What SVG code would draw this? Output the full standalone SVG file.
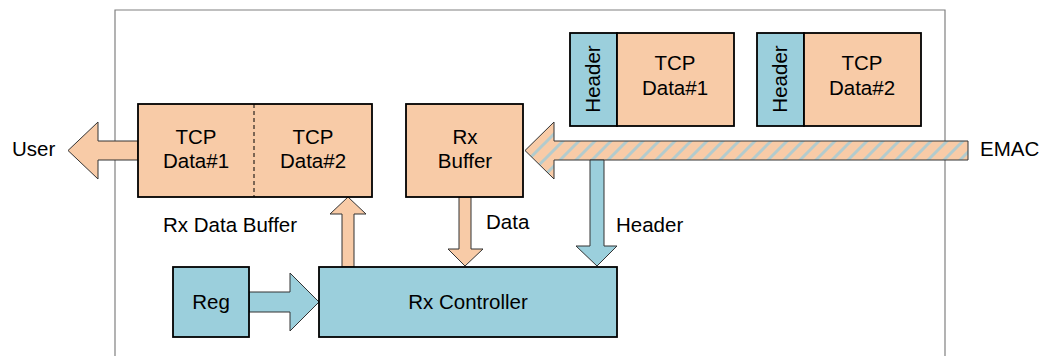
<svg xmlns="http://www.w3.org/2000/svg" width="1039" height="356" viewBox="0 0 1039 356">
<style>
text{font-family:"Liberation Sans",Arial,sans-serif;font-size:20.5px;fill:#000}
.c{text-anchor:middle}
.o{fill:#F8CBA7;stroke:#000;stroke-width:1.8}
.b{fill:#9BCFDC;stroke:#000;stroke-width:1.8}
.ao{fill:#F8CBA7;stroke:#333;stroke-width:1}
.ab{fill:#9BCFDC;stroke:#333;stroke-width:1}
.frame{fill:none;stroke:#808080;stroke-width:1.2}
</style>
<defs>
<pattern id="hatch" patternUnits="userSpaceOnUse" width="16" height="16">
<rect width="16" height="16" fill="#F8CBA7"/>
<path d="M-4,4 L4,-4 M0,16 L16,0 M12,20 L20,12" stroke="#A7CCD4" stroke-width="3" stroke-opacity="0.85"/>
</pattern>
</defs>
<path class="frame" d="M115,356 V10 H945 V356"/>
<g id="connectors">
<polygon class="ao" points="138,141 98,141 98,122 68,150.5 98,179 98,160 138,160"/>
<polygon fill="url(#hatch)" stroke="#333" stroke-width="1" points="968,141 554,141 554,122 525,150.5 554,179 554,160 968,160"/>
<polygon class="ab" points="590,160 604,160 604,246 617,246 597,266 576,246 590,246"/>
<polygon class="ao" points="459,197 471,197 471,249 483,249 465,266 448,249 459,249"/>
<polygon class="ao" points="342,267 342,214 330,214 348,197 366,214 354,214 354,267"/>
<polygon class="ab" points="249,292 290,292 290,273 319,302 290,331 290,312 249,312"/>
</g>
<g id="rx-data-buffer">
<rect class="o" x="138" y="104" width="234" height="93"/>
<line x1="254" y1="104" x2="254" y2="197" stroke="#000" stroke-width="1" stroke-dasharray="4,3"/>
<text class="c" x="196" y="144">TCP</text>
<text class="c" x="196" y="168">Data#1</text>
<text class="c" x="313" y="144">TCP</text>
<text class="c" x="313" y="168">Data#2</text>
</g>
<g id="rx-buffer">
<rect class="o" x="406" y="104" width="117" height="93"/>
<text class="c" x="465" y="144">Rx</text>
<text class="c" x="465" y="168">Buffer</text>
</g>
<g id="packet1">
<rect class="b" x="570" y="33" width="47" height="93"/>
<rect class="o" x="617" y="33" width="117" height="93"/>
<text class="c" transform="translate(600,79) rotate(-90)">Header</text>
<text class="c" x="675" y="70">TCP</text>
<text class="c" x="675" y="95">Data#1</text>
</g>
<g id="packet2">
<rect class="b" x="757" y="33" width="47" height="93"/>
<rect class="o" x="804" y="33" width="117" height="93"/>
<text class="c" transform="translate(787,79) rotate(-90)">Header</text>
<text class="c" x="862" y="70">TCP</text>
<text class="c" x="862" y="95">Data#2</text>
</g>
<g id="reg">
<rect class="b" x="173" y="267" width="76" height="70"/>
<text class="c" x="211" y="309">Reg</text>
</g>
<g id="rx-controller">
<rect class="b" x="319" y="267" width="298" height="70"/>
<text class="c" x="468" y="309">Rx Controller</text>
</g>
<g id="labels">
<text x="12" y="156">User</text>
<text x="980" y="156">EMAC</text>
<text x="163" y="232">Rx Data Buffer</text>
<text x="486" y="229">Data</text>
<text x="616" y="232">Header</text>
</g>
</svg>
